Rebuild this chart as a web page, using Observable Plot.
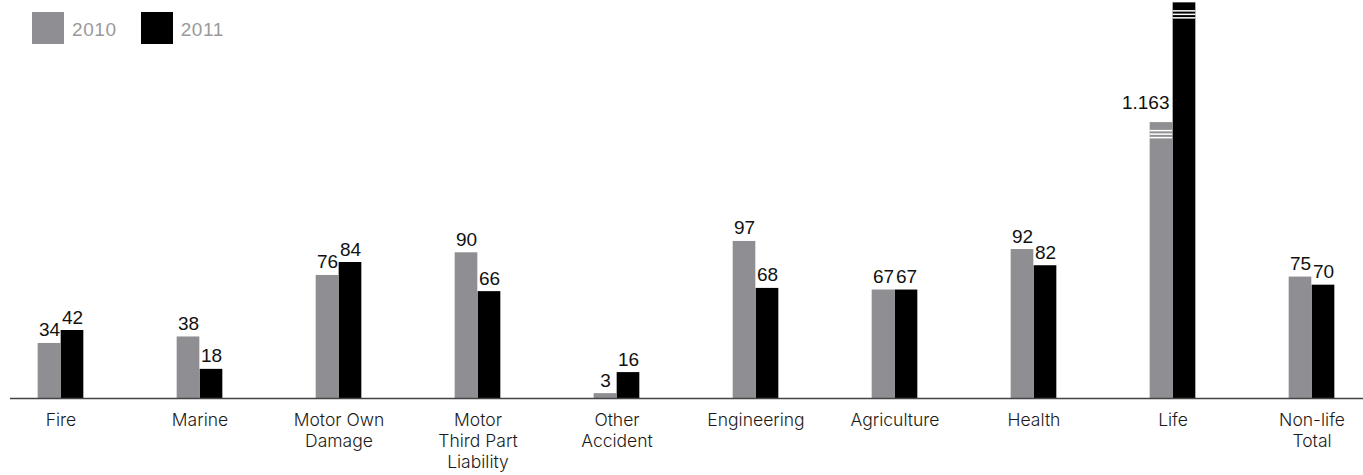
<!DOCTYPE html>
<html>
<head>
<meta charset="utf-8">
<script src="https://cdn.jsdelivr.net/npm/d3@7"></script>
<script src="https://cdn.jsdelivr.net/npm/@observablehq/plot@0.6"></script>
<style>
  body { margin: 0; background: #fff; }
  #wrap { position: relative; width: 1363px; height: 475px; }
  #legend { position: absolute; left: 32px; top: 12px; display: flex; font-family: "Liberation Sans", Arial, sans-serif; font-size: 19px; color: #9a9a9a; letter-spacing: 0.6px; }
  #legend .item { display: flex; align-items: flex-end; margin-right: 24px; }
  #legend .swatch { width: 32px; height: 32px; margin-right: 8px; }
  #legend .label { line-height: 19px; padding-bottom: 5px; }
</style>
</head>
<body>
<div id="wrap">
  <div id="chart"></div>
  <div id="legend"></div>
</div>
<script>
// Insurance lines and the figures for each year
const categories = ["Fire", "Marine", "Motor Own Damage", "Motor Third Part Liability", "Other Accident",
                    "Engineering", "Agriculture", "Health", "Life", "Non-life Total"];
const categoryLabels = ["Fire", "Marine", "Motor Own\nDamage", "Motor\nThird Part\nLiability", "Other\nAccident",
                        "Engineering", "Agriculture", "Health", "Life", "Non-life\nTotal"];
const years = ["2010", "2011"];
const values2010 = [34, 38, 76, 90, 3, 97, 67, 92, 1163, 75];
const values2011 = [42, 18, 84, 66, 16, 68, 67, 82, 2280, 70];
const colors = ["#8f8e93", "#000000"];

// The Life bars run off the common scale, so they are drawn broken
const brokenCategory = "Life";

const data = years.flatMap((year, j) =>
  categories.map((category, i) => ({category, year, value: (j === 0 ? values2010 : values2011)[i]}))
);

const width = 1363, height = 475;
const marginBottom = 77;
const baseline = height - marginBottom;
const unit = 1.619;                  // pixels per unit below the break
const xRange = [-10.7, 1382.7];
const step = (xRange[1] - xRange[0]) / categories.length;
const half = step / 2;
const barW = 23;
const insets = {
  "2010": {insetLeft: half - barW, insetRight: half},
  "2011": {insetLeft: half, insetRight: half - barW}
};
const offset = {"2010": -barW / 2, "2011": barW / 2};

const fmt = d3.formatLocale({decimal: ",", thousands: ".", grouping: [3], currency: ["", ""]}).format(",d");

const marks = [];
years.forEach(year => {
  const rows = data.filter(d => d.year === year);
  marks.push(Plot.barY(rows, {x: "category", y: "value", fill: "year", ...insets[year]}));
  // break marks near the top of the broken bars
  [8, 11.5, 15].forEach(dy => {
    marks.push(Plot.tickY(rows.filter(d => d.category === brokenCategory),
      {x: "category", y: "value", dy, stroke: "white", strokeWidth: 1.5, ...insets[year]}));
  });
  marks.push(Plot.text(rows.filter(d => d.category !== brokenCategory), {
    x: "category", y: "value", text: d => fmt(d.value), dx: offset[year], dy: -7,
    lineAnchor: "bottom", fontSize: 19, fill: "#111", fontFamily: "Liberation Sans, Arial, sans-serif"
  }));
});
// value label of the broken 2010 bar (the 2011 one sits above the frame)
marks.push(Plot.text(data.filter(d => d.category === brokenCategory && d.year === "2010"), {
  x: "category", y: "value", text: d => fmt(d.value), dx: offset["2010"] + 8, dy: -14,
  textAnchor: "end", lineAnchor: "bottom", fontSize: 19, fill: "#111", fontFamily: "Liberation Sans, Arial, sans-serif"
}));
marks.push(Plot.ruleY([0], {stroke: "#444", strokeWidth: 1.4}));
marks.push(Plot.text(categories, {
  x: d => d, y: () => 0, text: (d, i) => categoryLabels[i], lineAnchor: "top", dy: 12,
  lineHeight: 1.22, fontSize: 17.5, fontWeight: 300, fill: "#1a1a1a", fontFamily: "Inter, sans-serif",
  ariaLabel: "category labels"
}));

const chart = Plot.plot({
  width, height,
  marginTop: 0, marginBottom, marginLeft: 10, marginRight: 0,
  x: {type: "band", domain: categories, range: xRange, padding: 0, axis: null},
  y: {type: "linear", domain: [0, 100, 2300], range: [baseline, baseline - 100 * unit, 0.2], axis: null},
  color: {domain: years, range: colors},
  style: {background: "white"},
  marks
});
// a little tracking on the category names
d3.select(chart).selectAll('g[aria-label="category labels"]').attr("letter-spacing", "1.1px");
document.getElementById("chart").append(chart);

// legend
const legend = d3.select("#legend");
years.forEach((year, i) => {
  const item = legend.append("div").attr("class", "item");
  item.append("div").attr("class", "swatch").style("background", colors[i]);
  item.append("div").attr("class", "label").text(year);
});
</script>
</body>
</html>
